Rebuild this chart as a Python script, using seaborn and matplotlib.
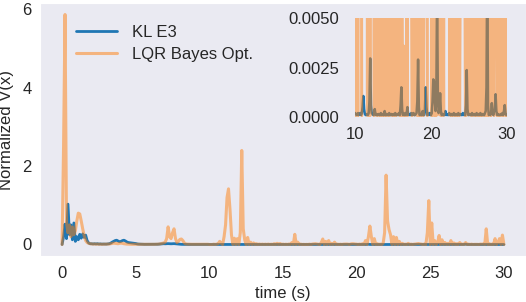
import numpy as np
import pandas as pd
import matplotlib
matplotlib.use("Agg")
import matplotlib.pyplot as plt
import seaborn as sns

# ---- data (sampled every 0.1 s from 0 to 30 s) ----
time_s = np.round(np.arange(301) * 0.1, 1)

kl_e3 = [
    # 0-5 s
    0.0, 0.2, 0.52, 0.15, 1.03, 0.25, 0.5, 0.12, 0.55, 0.08,
    0.2, 0.12, 0.26, 0.16, 0.27, 0.18, 0.24, 0.1, 0.04, 0.02,
    0.02, 0.015, 0.02, 0.015, 0.02, 0.012, 0.015, 0.01, 0.012, 0.01,
    0.01, 0.015, 0.02, 0.035, 0.06, 0.08, 0.1, 0.11, 0.09, 0.07,
    0.08, 0.1, 0.11, 0.09, 0.065, 0.05, 0.045, 0.04, 0.035, 0.03,
    # 5-10 s
    0.025, 0.015, 0.01, 0.008, 0.006, 0.005, 0.004, 0.004, 0.003, 0.003,
    0.003, 0.003, 0.002, 0.003, 0.004, 0.006, 0.01, 0.015, 0.02, 0.02,
    0.018, 0.02, 0.022, 0.02, 0.018, 0.02, 0.022, 0.018, 0.012, 0.008,
    0.006, 0.004, 0.003, 0.002, 0.002, 0.0015, 0.001, 0.001, 0.0008, 0.0006,
    0.0005, 0.0004, 0.0004, 0.0003, 0.0003, 0.0003, 0.0002, 0.0002, 0.0002, 0.0002,
    # 10-20 s
    0.0002, 0.00015, 0.0001, 0.00015, 0.0002, 0.0001, 0.00015, 0.0002, 0.0001, 0.0002,
    0.0005, 0.00106, 0.0004, 0.00015, 0.0001, 0.0001, 0.00015, 0.0001, 0.0002, 0.0008,
    0.00296, 0.0006, 0.0002, 0.00015, 0.0001, 0.0002, 0.0004, 0.0001, 0.00015, 0.0001,
    0.0001, 0.00015, 0.0001, 0.0001, 0.0002, 0.0001, 0.00015, 0.0001, 0.0001, 0.0003,
    0.0001, 0.0001, 0.00015, 0.0001, 0.0001, 0.0002, 0.0001, 0.0001, 0.00015, 0.0001,
    0.0001, 0.00015, 0.0001, 0.0002, 0.0001, 0.0001, 0.00015, 0.0001, 0.0002, 0.0001,
    0.0006, 0.0015, 0.0004, 0.0001, 0.00015, 0.0001, 0.0002, 0.0001, 0.0002, 0.0005,
    0.0001, 0.00015, 0.0001, 0.0001, 0.0002, 0.0001, 0.00015, 0.0002, 0.0001, 0.0001,
    0.00015, 0.0002, 0.0008, 0.0029, 0.0005, 0.0001, 0.00015, 0.0001, 0.0001, 0.0003,
    0.0001, 0.0001, 0.0004, 0.0015, 0.0005, 0.0001, 0.00015, 0.0001, 0.0002, 0.0001,
    # 20-30 s
    0.0001, 0.0002, 0.0008, 0.0019, 0.0018, 0.0008, 0.0003, 0.0009, 0.0065, 0.0012,
    0.0002, 0.0004, 0.0012, 0.0003, 0.0001, 0.00015, 0.0001, 0.0001, 0.0001, 0.0003,
    0.0001, 0.00015, 0.0001, 0.0001, 0.0002, 0.0001, 0.0001, 0.00015, 0.0001, 0.0001,
    0.0002, 0.0001, 0.0001, 0.00015, 0.0001, 0.0001, 0.0002, 0.0001, 0.0001, 0.00015,
    0.0001, 0.0001, 0.0002, 0.0001, 0.00015, 0.0001, 0.0006, 0.00237, 0.0004, 0.0001,
    0.0001, 0.00015, 0.0001, 0.0001, 0.0002, 0.0001, 0.0001, 0.00015, 0.0001, 0.0001,
    0.0002, 0.0001, 0.0001, 0.00015, 0.0001, 0.0002, 0.0001, 0.0001, 0.00015, 0.0001,
    0.0001, 0.0002, 0.0003, 0.0015, 0.008, 0.0006, 0.0001, 0.00015, 0.0001, 0.0002,
    0.0007, 0.0002, 0.0001, 0.0003, 0.0004, 0.00115, 0.0003, 0.0001, 0.00015, 0.0001,
    0.0001, 0.0001, 0.00015, 0.0001, 0.0002, 0.0001, 0.0003, 0.0006, 0.0002, 0.0001,
    0.0001,
]

lqr_bayes = [
    # 0-5 s
    0.0, 2.5, 5.87, 0.55, 0.3, 0.5, 0.2, 0.45, 0.25, 0.35,
    0.6, 0.8, 0.78, 0.6, 0.4, 0.22, 0.1, 0.05, 0.03, 0.02,
    0.015, 0.01, 0.012, 0.008, 0.01, 0.006, 0.008, 0.005, 0.006, 0.005,
    0.006, 0.008, 0.012, 0.02, 0.03, 0.035, 0.03, 0.025, 0.02, 0.03,
    0.035, 0.03, 0.02, 0.015, 0.01, 0.008, 0.006, 0.005, 0.005, 0.004,
    # 5-10 s
    0.004, 0.003, 0.004, 0.003, 0.003, 0.004, 0.003, 0.004, 0.005, 0.006,
    0.005, 0.004, 0.006, 0.005, 0.008, 0.01, 0.012, 0.02, 0.03, 0.04,
    0.06, 0.15, 0.45, 0.2, 0.15, 0.3, 0.4, 0.15, 0.05, 0.08,
    0.13, 0.14, 0.1, 0.04, 0.015, 0.01, 0.008, 0.006, 0.005, 0.005,
    0.004, 0.005, 0.004, 0.006, 0.005, 0.004, 0.006, 0.005, 0.004, 0.006,
    # 10-20 s
    0.00005, 0.0012, 0.00008, 0.009, 0.00005, 0.012, 0.02, 0.08, 0.03, 0.00005,
    0.2, 0.5, 1.2, 1.42, 0.9, 0.25, 0.00008, 0.16, 0.00005, 0.15,
    0.00006, 0.3, 2.4, 0.4, 0.12, 0.00005, 0.18, 0.0001, 0.06, 0.00005,
    0.04, 0.00008, 0.02, 0.00005, 0.012, 0.00006, 0.01, 0.00005, 0.009, 0.00004,
    0.011, 0.00005, 0.008, 0.00008, 0.02, 0.00005, 0.03, 0.0001, 0.025, 0.00005,
    0.01, 0.00006, 0.008, 0.00005, 0.012, 0.00008, 0.05, 0.0001, 0.26, 0.00006,
    0.06, 0.00005, 0.01, 0.00008, 0.0036, 0.00005, 0.0035, 0.00006, 0.009, 0.00005,
    0.012, 0.015, 0.02, 0.014, 0.01, 0.00005, 0.05, 0.14, 0.00008, 0.08,
    0.0001, 0.1, 0.00005, 0.03, 0.00006, 0.06, 0.00005, 0.01, 0.00008, 0.008,
    0.00005, 0.009, 0.011, 0.012, 0.01, 0.00005, 0.013, 0.02, 0.018, 0.012,
    # 20-30 s
    0.009, 0.00005, 0.011, 0.00008, 0.02, 0.00005, 0.1, 0.00006, 0.2, 0.47,
    0.2, 0.0001, 0.15, 0.00006, 0.02, 0.00005, 0.01, 0.00008, 0.03, 0.3,
    1.77, 0.6, 0.38, 0.25, 0.0001, 0.2, 0.00006, 0.18, 0.00005, 0.08,
    0.00008, 0.03, 0.00005, 0.01, 0.00006, 0.03, 0.00005, 0.01, 0.00008, 0.009,
    0.012, 0.02, 0.025, 0.015, 0.01, 0.00005, 0.012, 0.00008, 0.3, 1.12,
    0.0001, 0.55, 0.00008, 0.1, 0.00005, 0.05, 0.23, 0.00006, 0.12, 0.00005,
    0.05, 0.00008, 0.03, 0.00005, 0.1, 0.00006, 0.04, 0.00005, 0.02, 0.00008,
    0.05, 0.00005, 0.01, 0.00006, 0.05, 0.00005, 0.01, 0.00008, 0.009, 0.00005,
    0.004, 0.005, 0.004, 0.00005, 0.01, 0.008, 0.012, 0.00005, 0.4, 0.00006,
    0.02, 0.00005, 0.01, 0.00008, 0.15, 0.00005, 0.05, 0.15, 0.00006, 0.24,
    0.00005,
]

series_labels = ["KL E3", "LQR Bayes Opt."]
main_xticks = [0, 5, 10, 15, 20, 25, 30]
main_yticks = [0, 2, 4, 6]
inset_xticks = [10, 20, 30]
inset_yticks = [0.0, 0.0025, 0.005]

assert len(kl_e3) == len(time_s) and len(lqr_bayes) == len(time_s)

df = pd.DataFrame({"t": time_s, "kl": kl_e3, "lqr": lqr_bayes})

# ---- style ----
sns.set_style("dark")
plt.rcParams["font.family"] = ["Liberation Sans", "DejaVu Sans"]
plt.rcParams["text.color"] = "#262626"

blue = "#1f77b4"
orange = "#ff7f0e"
FS = 12

fig = plt.figure(figsize=(5.26, 3.02), dpi=100)
ax = fig.add_axes([40 / 526, (302 - 256) / 302, 486 / 526, 253 / 302])

sns.lineplot(data=df, x="t", y="kl", ax=ax, color=blue, lw=2.0,
             label=series_labels[0], errorbar=None)
sns.lineplot(data=df, x="t", y="lqr", ax=ax, color=orange, lw=2.2, alpha=0.5,
             label=series_labels[1], errorbar=None)

ax.set_xticks(main_xticks)
ax.set_yticks(main_yticks)
ax.tick_params(axis="y", labelsize=FS, colors="#262626", pad=2.5)
ax.tick_params(axis="x", labelsize=FS, colors="#262626", pad=4)
ax.set_xlabel("time (s)", fontsize=FS, labelpad=3)
ax.set_ylabel("Normalized V(x)", fontsize=FS, labelpad=6)
leg = ax.legend(loc="upper left", bbox_to_anchor=(0.06, 0.94), borderaxespad=0,
                fontsize=FS, frameon=False, handlelength=2.5, handletextpad=0.9,
                labelspacing=0.4)

# ---- inset ----
axin = fig.add_axes([355 / 526, (302 - 117) / 302, 152 / 526, 99 / 302])
sns.lineplot(data=df, x="t", y="kl", ax=axin, color=blue, lw=1.8,
             legend=False, errorbar=None)
sns.lineplot(data=df, x="t", y="lqr", ax=axin, color=orange, lw=1.8, alpha=0.5,
             legend=False, errorbar=None)
axin.set_xlim(10, 30)
axin.set_ylim(0, 0.005)
axin.set_xticks(inset_xticks)
axin.set_yticks(inset_yticks)
axin.set_yticklabels(["0.0000", "0.0025", "0.0050"])
axin.set_xlabel("")
axin.set_ylabel("")
axin.tick_params(axis="y", labelsize=FS, colors="#262626", pad=8)
axin.tick_params(axis="x", labelsize=FS, colors="#262626", pad=4)
for s in axin.spines.values():
    s.set_visible(False)

fig.savefig("out.png", dpi=100)
